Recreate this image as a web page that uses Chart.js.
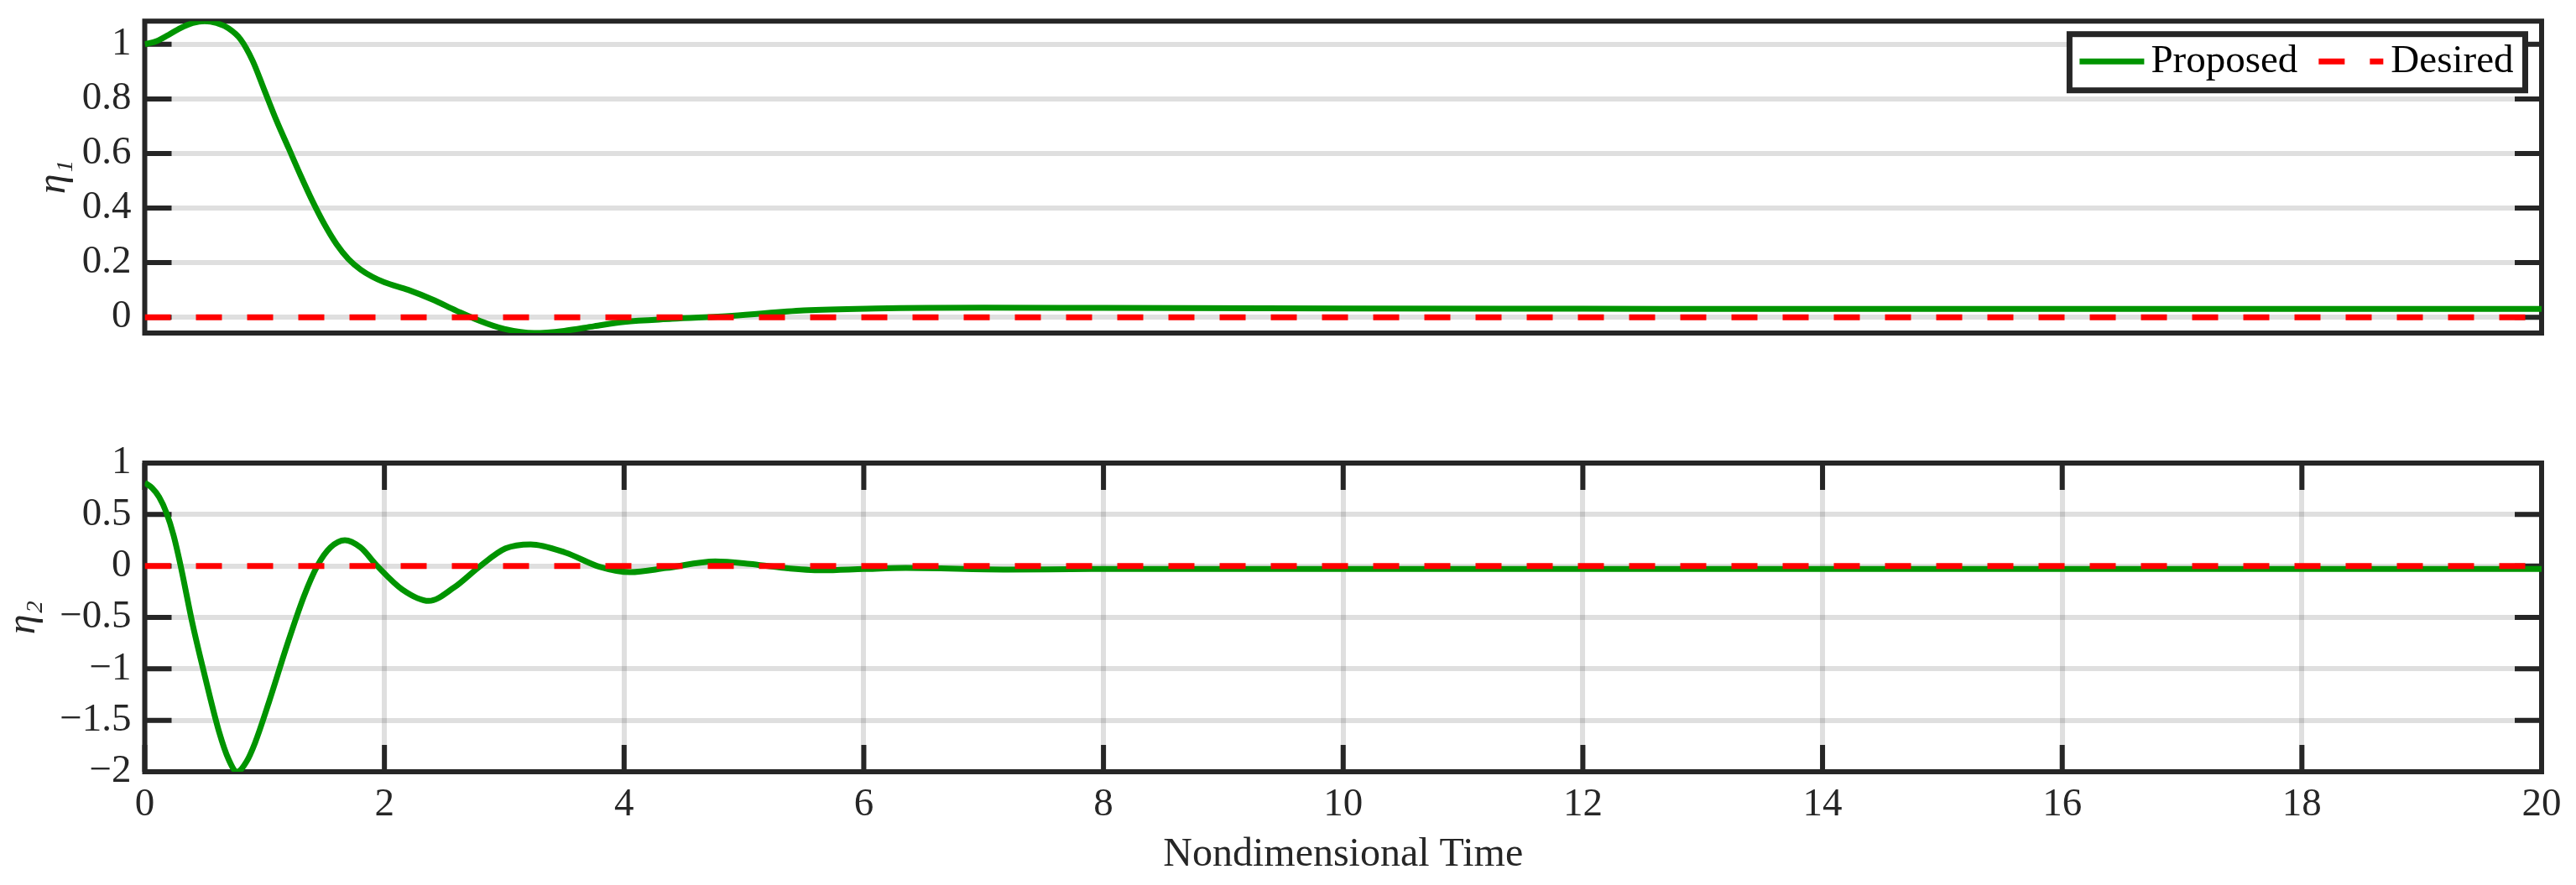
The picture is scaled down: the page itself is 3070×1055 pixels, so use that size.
<!DOCTYPE html>
<html>
<head>
<meta charset="utf-8">
<script src="https://cdn.jsdelivr.net/npm/chart.js@4.4.1/dist/chart.umd.min.js"></script>
<style>
  html, body { margin: 0; padding: 0; background: #fff; }
  body { width: 3070px; height: 1055px; position: relative; overflow: hidden; }
  canvas { position: absolute; left: 0; }
  #topChart { top: -19px; }
  #bottomChart { top: 440px; }
</style>
</head>
<body>
<canvas id="topChart" width="3070" height="461"></canvas>
<canvas id="bottomChart" width="3070" height="615"></canvas>
<script>
// values
const timeTop = [0, 0.1, 0.2, 0.3, 0.4, 0.5, 0.6, 0.7, 0.8, 0.9, 1.0, 1.1, 1.2, 1.3, 1.4, 1.5, 1.6, 1.7, 1.8, 1.9, 2.0, 2.2, 2.4, 2.6, 2.8, 3.0, 3.25, 3.5, 3.75, 4.0, 4.4, 4.9, 5.5, 6.1, 7.0, 8.0, 10, 12, 14, 16, 18, 20];
const etaOne = [1.0, 1.012, 1.035, 1.06, 1.078, 1.085, 1.078, 1.058, 1.018, 0.94, 0.83, 0.72, 0.62, 0.52, 0.425, 0.34, 0.268, 0.213, 0.175, 0.148, 0.128, 0.1, 0.065, 0.024, -0.014, -0.043, -0.058, -0.05, -0.033, -0.017, -0.006, 0.005, 0.025, 0.032, 0.035, 0.034, 0.032, 0.031, 0.03, 0.03, 0.03, 0.03];

const timeBottom = [0, 0.06, 0.12, 0.18, 0.24, 0.3, 0.4, 0.51, 0.62, 0.7, 0.77, 0.85, 0.92, 1.04, 1.19, 1.33, 1.44, 1.55, 1.67, 1.8, 1.94, 2.15, 2.37, 2.58, 2.8, 3.01, 3.22, 3.51, 3.8, 4.05, 4.35, 4.76, 5.05, 5.3, 5.65, 6.0, 6.35, 7.2, 7.9, 10, 14, 20];
const etaTwo = [0.81, 0.76, 0.67, 0.52, 0.3, 0.0, -0.57, -1.11, -1.61, -1.88, -2.0, -1.9, -1.72, -1.31, -0.76, -0.29, 0.0, 0.18, 0.25, 0.18, 0.0, -0.23, -0.34, -0.21, 0.0, 0.17, 0.21, 0.13, -0.01, -0.06, -0.02, 0.045, 0.02, -0.015, -0.042, -0.03, -0.02, -0.035, -0.03, -0.03, -0.03, -0.03];

const timeDesired = [0, 20];
const desired = [0, 0];

const seriesNames = ["Proposed", "Desired"];
const topTicks = [0, 0.2, 0.4, 0.6, 0.8, 1];
const bottomTicks = [-2, -1.5, -1, -0.5, 0, 0.5, 1];
const timeTicks = [0, 2, 4, 6, 8, 10, 12, 14, 16, 18, 20];

const INK = "#262626";
const GRID = "rgba(0,0,0,0.125)";
const GREEN = "#009400";
const RED = "#ff0000";
const FONT = "'Liberation Serif', 'Times New Roman', serif";

Chart.defaults.font.family = FONT;
Chart.defaults.color = INK;

const toPoints = (xs, ys) => xs.map((x, i) => ({ x, y: ys[i] }));
const fmt = v => String(v).replace("-", "\u2212");

// matlab style box with inward ticks on every side
const frame = {
  id: "frame",
  beforeDatasetsDraw(chart, args, opts) {
    const { ctx, chartArea: a, scales } = chart;
    const len = 32;
    ctx.save();
    ctx.strokeStyle = INK;
    ctx.lineWidth = 6;
    ctx.beginPath();
    scales.y.ticks.forEach(t => {
      const y = scales.y.getPixelForValue(t.value);
      ctx.moveTo(a.left, y);
      ctx.lineTo(a.left + len, y);
      ctx.moveTo(a.right, y);
      ctx.lineTo(a.right - len, y);
    });
    if (opts.xTicks) {
      scales.x.ticks.forEach(t => {
        const x = scales.x.getPixelForValue(t.value);
        ctx.moveTo(x, a.top);
        ctx.lineTo(x, a.top + len);
        ctx.moveTo(x, a.bottom);
        ctx.lineTo(x, a.bottom - len);
      });
    }
    ctx.stroke();
    ctx.strokeRect(a.left, a.top, a.right - a.left, a.bottom - a.top);
    ctx.restore();
  }
};

// legend box inside the top right corner, like matlab's northeast legend
const boxLegend = {
  id: "boxLegend",
  afterDraw(chart, args, opts) {
    if (!opts.show) return;
    const { ctx, chartArea: a } = chart;
    const sets = chart.data.datasets;
    ctx.save();
    ctx.font = "47px " + FONT;
    const sample = 77;
    const widths = sets.map(d => ctx.measureText(d.label).width);
    const w = 12 + sample + 8 + widths[0] + 25 + sample + 9 + widths[1] + 14;
    const h = 67;
    const right = a.right - 19.5;
    const top = a.top + 15.5;
    const left = right - w;

    ctx.fillStyle = "#fff";
    ctx.fillRect(left, top, w, h);
    ctx.strokeStyle = INK;
    ctx.lineWidth = 7;
    ctx.strokeRect(left, top, w, h);

    let x = left + 12;
    sets.forEach((d, i) => {
      ctx.beginPath();
      ctx.strokeStyle = d.borderColor;
      ctx.lineWidth = d.borderWidth;
      ctx.setLineDash(d.borderDash || []);
      ctx.moveTo(x, top + 32.5);
      ctx.lineTo(x + sample, top + 32.5);
      ctx.stroke();
      ctx.setLineDash([]);
      x += sample + (i === 0 ? 8 : 9);
      ctx.fillStyle = "#000";
      ctx.textBaseline = "alphabetic";
      ctx.fillText(d.label, x, top + 45);
      x += widths[i] + 25;
    });
    ctx.restore();
  }
};

function buildDatasets(times, values) {
  return [
    {
      label: seriesNames[0],
      data: toPoints(times, values),
      borderColor: GREEN,
      borderWidth: 7,
      pointRadius: 0,
      cubicInterpolationMode: "monotone",
      order: 1
    },
    {
      label: seriesNames[1],
      data: toPoints(timeDesired, desired),
      borderColor: RED,
      borderWidth: 7,
      borderDash: [31, 30],
      borderCapStyle: "butt",
      pointRadius: 0,
      order: 0
    }
  ];
}

function yAxis(min, max, tickList, label, titlePad) {
  return {
    min,
    max,
    afterBuildTicks: s => { s.ticks = tickList.map(value => ({ value })); },
    afterFit: s => { s.width = 172.5; },
    ticks: { padding: 16, font: { size: 47 }, color: INK, callback: fmt },
    grid: { color: GRID, lineWidth: 6, drawTicks: false },
    border: { display: false },
    title: {
      display: true,
      text: label,
      color: INK,
      font: { size: 48, style: "italic" },
      padding: { top: titlePad, bottom: 0 }
    }
  };
}

new Chart(document.getElementById("topChart"), {
  type: "line",
  data: { datasets: buildDatasets(timeTop, etaOne) },
  options: {
    responsive: false,
    animation: false,
    layout: { padding: { top: 0, right: 41, bottom: 45, left: 0 } },
    plugins: {
      legend: { display: false },
      tooltip: { enabled: false },
      frame: { xTicks: false },
      boxLegend: { show: true }
    },
    scales: {
      x: { type: "linear", min: 0, max: 20, display: false },
      y: yAxis(-0.058, 1.085, topTicks, "η₁", 36)
    }
  },
  plugins: [frame, boxLegend]
});

new Chart(document.getElementById("bottomChart"), {
  type: "line",
  data: { datasets: buildDatasets(timeBottom, etaTwo) },
  options: {
    responsive: false,
    animation: false,
    layout: { padding: { top: 112, right: 41, bottom: 0, left: 0 } },
    plugins: {
      legend: { display: false },
      tooltip: { enabled: false },
      frame: { xTicks: true },
      boxLegend: { show: false }
    },
    scales: {
      x: {
        type: "linear",
        min: 0,
        max: 20,
        afterBuildTicks: s => { s.ticks = timeTicks.map(value => ({ value })); },
        afterFit: s => { s.height = 135; },
        ticks: { padding: 11, maxRotation: 0, autoSkip: false, font: { size: 47 }, color: INK },
        grid: { color: GRID, lineWidth: 6, drawTicks: false },
        border: { display: false },
        title: {
          display: true,
          text: "Nondimensional Time",
          color: INK,
          font: { size: 48 },
          padding: { top: 0, bottom: 7 }
        }
      },
      y: yAxis(-2, 1, bottomTicks, "η₂", 0)
    }
  },
  plugins: [frame, boxLegend]
});
</script>
</body>
</html>
